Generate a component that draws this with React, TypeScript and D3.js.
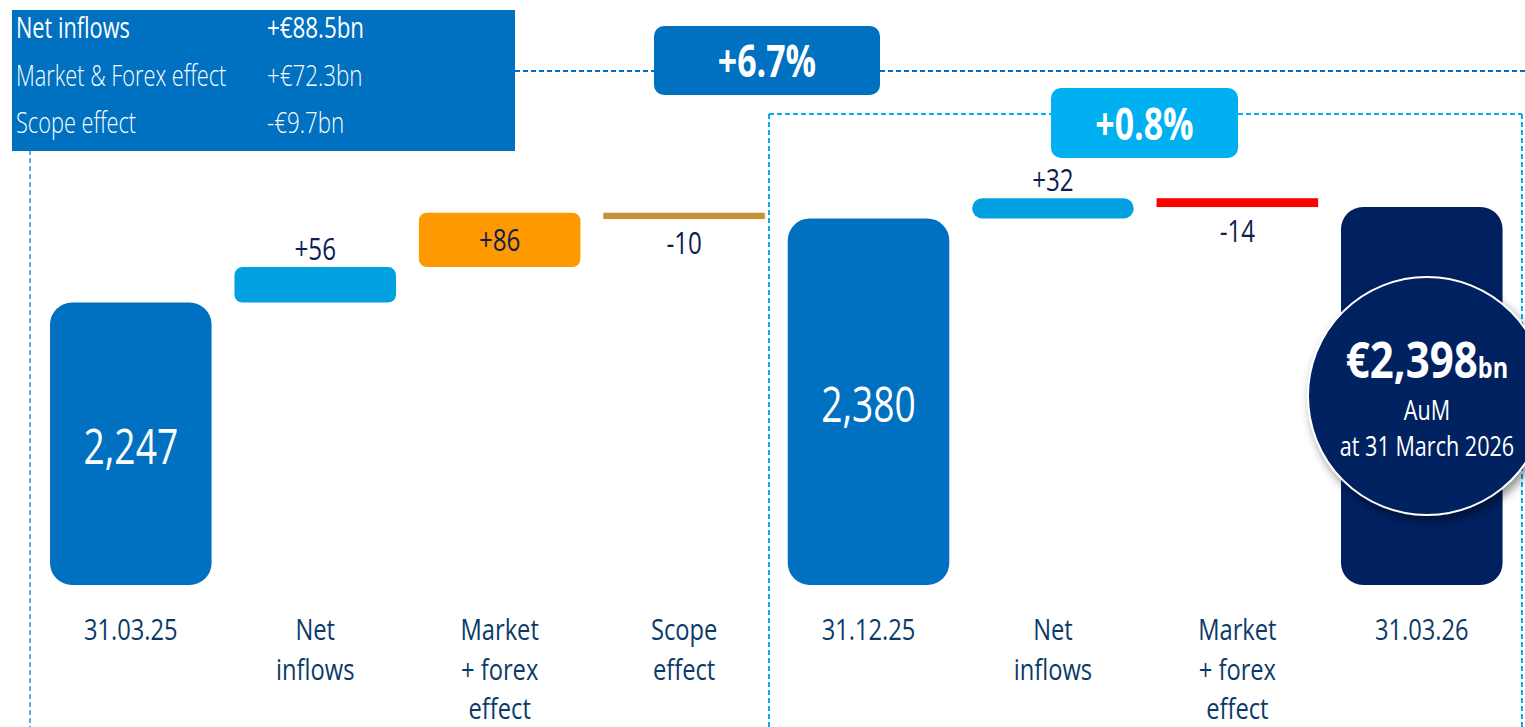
import React from "react";
import * as d3 from "d3";

const categories = ["c1", "c2", "c3", "c4", "c5", "c6", "c7", "c8"];
const categoryLines = [
  ["31.03.25"],
  ["Net", "inflows"],
  ["Market", "+ forex", "effect"],
  ["Scope", "effect"],
  ["31.12.25"],
  ["Net", "inflows"],
  ["Market", "+ forex", "effect"],
  ["31.03.26"],
];
const values = [2247, 56, 86, -10, 2380, 32, -14, 2398];
const isTotal = [true, false, false, false, true, false, false, true];
const valueLabels = ["2,247", "+56", "+86", "-10", "2,380", "+32", "-14", ""];
const labelPos = ["inside", "above", "inside", "below", "inside", "above", "below", "none"];
const barColors = ["#0070c0", "#00a0e1", "#ff9900", "#c49239", "#0070c0", "#00a0e1", "#ff0000", "#002060"];
const barRadius = [22, 8, 8, 0, 22, 10, 0, 22];

const legendLabels = ["Net inflows", "Market & Forex effect", "Scope effect"];
const legendValues = ["+€88.5bn", "+€72.3bn", "-€9.7bn"];
const growthLabels = ["+6.7%", "+0.8%"];
const circleLines = ["€2,398", "bn", "AuM", "at 31 March 2026"];

const W = 1525;
const H = 727;
const FONT = "'Open Sans', 'Noto Sans', sans-serif";

function CT(props: any) {
  const { x, y, sx = 0.78, size, weight = 400, fill, anchor = "middle", children } = props;
  return (
    <text
      transform={`translate(${x},${y}) scale(${sx},1)`}
      fontSize={size}
      fontWeight={weight}
      fill={fill}
      textAnchor={anchor}
      fontFamily={FONT}
    >
      {children}
    </text>
  );
}

export default function App() {
  const x = d3.scaleBand<string>().domain(categories).range([38.6, 1514]).paddingInner(0.124).paddingOuter(0.062);
  const y = d3.scaleLinear().domain([1800, 2400]).range([585, 205.8]);
  const bw = x.bandwidth();

  let running = 0;
  const bars = values.map((v, i) => {
    let y0: number, y1: number;
    if (isTotal[i]) {
      y0 = 1800;
      y1 = v;
      running = v;
    } else {
      y0 = running;
      y1 = running + v;
      running = y1;
    }
    const top = y(Math.max(y0, y1));
    const bottom = y(Math.min(y0, y1));
    return { i, x: x(categories[i]) as number, top, bottom };
  });

  return (
    <svg width={W} height={H} style={{ position: "absolute", left: 0, top: 0, background: "#fff" }}>
      <defs>
        <filter id="shadow" x="-30%" y="-30%" width="160%" height="160%">
          <feDropShadow dx="3" dy="5" stdDeviation="5" floodColor="#000" floodOpacity="0.45" />
        </filter>
      </defs>

      {/* dashed guides */}
      <line x1={30} x2={30} y1={150} y2={H} stroke="#3a8fd6" strokeWidth={1.5} strokeDasharray="5,3" />
      <line x1={515} x2={654} y1={71} y2={71} stroke="#0070c0" strokeWidth={2} strokeDasharray="5,3" />
      <line x1={880} x2={W} y1={71} y2={71} stroke="#0070c0" strokeWidth={2} strokeDasharray="5,3" />
      <line x1={769} x2={1051} y1={114} y2={114} stroke="#00b0f0" strokeWidth={2} strokeDasharray="5,3" />
      <line x1={1238} x2={1522} y1={114} y2={114} stroke="#00b0f0" strokeWidth={2} strokeDasharray="5,3" />
      <line x1={769} x2={769} y1={114} y2={H} stroke="#00b0f0" strokeWidth={2} strokeDasharray="5,3" />
      <line x1={1522} x2={1522} y1={114} y2={H} stroke="#00b0f0" strokeWidth={2} strokeDasharray="5,3" />

      {/* legend box */}
      <rect x={12} y={10} width={503} height={141} fill="#0070c0" />
      {legendLabels.map((l, i) => (
        <g key={l}>
          <CT x={16} y={38 + i * 47.5} size={29} weight={i === 0 ? 500 : 300} fill="#fff" anchor="start" sx={0.75}>
            {l}
          </CT>
          <CT x={267} y={38 + i * 47.5} size={29} weight={i === 0 ? 500 : 300} fill="#fff" anchor="start" sx={0.77}>
            {legendValues[i]}
          </CT>
        </g>
      ))}

      {/* growth boxes */}
      <rect x={654} y={26} width={226} height={69} rx={10} fill="#0070c0" />
      <CT x={767} y={77} size={44} weight={700} fill="#fff" sx={0.77}>
        {growthLabels[0]}
      </CT>
      <rect x={1051} y={88} width={187} height={70} rx={10} fill="#00b0f0" />
      <CT x={1144.5} y={140} size={44} weight={700} fill="#fff" sx={0.77}>
        {growthLabels[1]}
      </CT>

      {/* bars */}
      {bars.map((b) => {
        const h = Math.max(b.bottom - b.top, 1);
        const r = Math.min(barRadius[b.i], h / 2);
        return (
          <rect key={b.i} x={b.x} y={b.top} width={bw} height={h} rx={r} ry={r} fill={barColors[b.i]} />
        );
      })}

      {/* value labels */}
      {bars.map((b) => {
        const cx = b.x + bw / 2;
        const pos = labelPos[b.i];
        if (pos === "none") return null;
        if (pos === "inside" && isTotal[b.i]) {
          return (
            <CT key={b.i} x={cx} y={(b.top + b.bottom) / 2 + 20} size={49} fill="#fff" sx={0.76}>
              {valueLabels[b.i]}
            </CT>
          );
        }
        let cy = (b.top + b.bottom) / 2;
        if (pos === "above") cy = b.top - 18;
        if (pos === "below") cy = b.bottom + 24;
        return (
          <CT key={b.i} x={cx} y={cy + 11} size={31} fill="#0f1e4e" sx={0.78}>
            {valueLabels[b.i]}
          </CT>
        );
      })}

      {/* category labels */}
      {categoryLines.map((lines, i) => {
        const cx = (x(categories[i]) as number) + bw / 2;
        return (
          <g key={i}>
            {lines.map((ln, j) => (
              <CT key={j} x={cx} y={640 + j * 39.5} size={30} fill="#0b3a68" sx={0.79}>
                {ln}
              </CT>
            ))}
          </g>
        );
      })}

      {/* circle */}
      <circle cx={1427} cy={396} r={119} fill="#002060" stroke="#fff" strokeWidth={2} filter="url(#shadow)" />
      <text
        transform={`translate(1427,378) scale(0.84,1)`}
        fill="#fff"
        textAnchor="middle"
        fontFamily={FONT}
        fontWeight={700}
      >
        <tspan fontSize={50}>{circleLines[0]}</tspan>
        <tspan fontSize={28}>{circleLines[1]}</tspan>
      </text>
      <CT x={1427} y={420} size={27} fill="#fff" sx={0.8}>
        {circleLines[2]}
      </CT>
      <CT x={1427} y={456} size={27} fill="#fff" sx={0.8}>
        {circleLines[3]}
      </CT>
    </svg>
  );
}
